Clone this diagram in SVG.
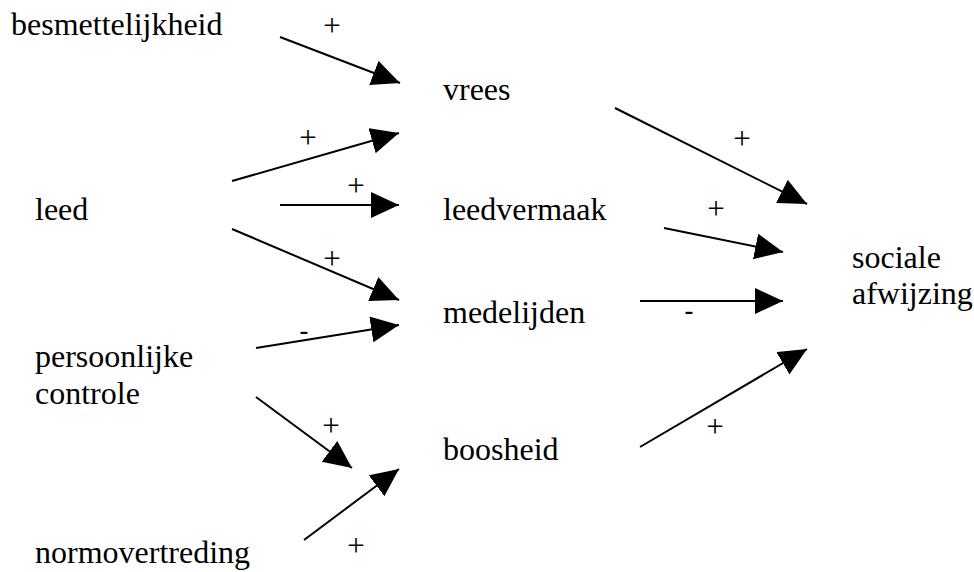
<svg xmlns="http://www.w3.org/2000/svg" width="974" height="572" viewBox="0 0 974 572">
<defs>
<marker id="ah" markerUnits="userSpaceOnUse" markerWidth="30" markerHeight="28" refX="28" refY="13" orient="auto" viewBox="0 0 30 28">
<path d="M0,0 L28,13 L0,26 z" fill="#000"/>
</marker>
</defs>
<rect width="974" height="572" fill="#fff"/>
<g font-family="'Liberation Serif', 'Times New Roman', serif" font-size="32" fill="#000">
<g id="besmettelijkheid"><text x="11" y="35">besmettelijkheid</text></g>
<g id="leed"><text x="35" y="220">leed</text></g>
<g id="persoonlijke_controle"><text x="35" y="367">persoonlijke</text><text x="35" y="404">controle</text></g>
<g id="normovertreding"><text x="35" y="563">normovertreding</text></g>
<g id="vrees"><text x="443" y="100">vrees</text></g>
<g id="leedvermaak"><text x="443" y="220">leedvermaak</text></g>
<g id="medelijden"><text x="443" y="323">medelijden</text></g>
<g id="boosheid"><text x="443" y="460">boosheid</text></g>
<g id="sociale_afwijzing"><text x="852" y="268">sociale</text><text x="852" y="304">afwijzing</text></g>
</g>
<g id="connectors" stroke="#000" stroke-width="2" marker-end="url(#ah)">
<line x1="280" y1="37" x2="400" y2="83"/>
<line x1="232" y1="181" x2="399" y2="133"/>
<line x1="280" y1="205" x2="399" y2="205"/>
<line x1="232" y1="229" x2="399" y2="300"/>
<line x1="256" y1="348" x2="399" y2="325"/>
<line x1="256" y1="397" x2="352" y2="468"/>
<line x1="304" y1="540" x2="399" y2="469"/>
<line x1="615" y1="108" x2="807" y2="204"/>
<line x1="664" y1="228" x2="783" y2="252"/>
<line x1="640" y1="301" x2="783" y2="301"/>
<line x1="640" y1="447" x2="807" y2="349"/>
</g>
<g id="labels" font-family="'Liberation Serif', 'Times New Roman', serif" font-size="31" fill="#000" text-anchor="middle">
<text x="332" y="36">+</text>
<text x="308" y="148">+</text>
<text x="356" y="196">+</text>
<text x="332" y="269">+</text>
<text x="304" y="340" font-family="'Liberation Sans', Arial, sans-serif" font-size="28">-</text>
<text x="331" y="436">+</text>
<text x="356" y="556">+</text>
<text x="742" y="149">+</text>
<text x="716" y="219">+</text>
<text x="689" y="320" font-family="'Liberation Sans', Arial, sans-serif" font-size="28">-</text>
<text x="715" y="437">+</text>
</g>
</svg>
